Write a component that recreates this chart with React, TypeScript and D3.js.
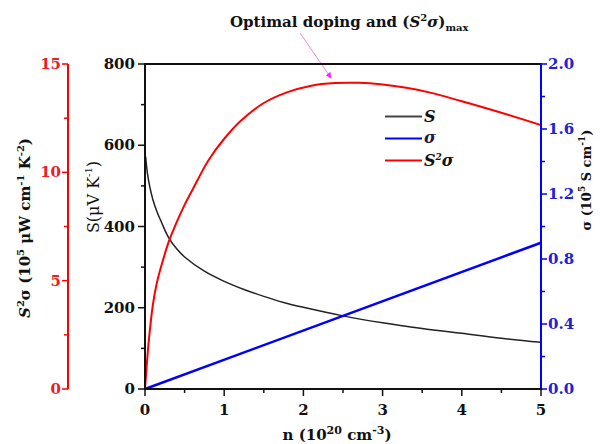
import React from "react";
import * as d3 from "d3";

const nS = [0.008, 0.03, 0.06, 0.1, 0.15, 0.2, 0.3, 0.4, 0.5, 0.75, 1, 1.25, 1.5, 1.75, 2, 2.5, 3, 3.5, 4, 4.5, 5];
const sVals = [572, 532, 498, 466, 437, 414, 372, 345, 325, 290, 265, 245, 228, 213, 201, 180, 163, 149, 137, 125, 115];

const nSig = [0, 2.5, 5];
const sigVals = [0, 0.45, 0.9];

const nPF = [0, 0.02, 0.05, 0.1, 0.15, 0.2, 0.3, 0.4, 0.5, 0.6, 0.8, 1.0, 1.2, 1.5, 1.8, 2.1, 2.4, 2.7, 3.0, 3.3, 3.6, 4.0, 4.5, 5.0];
const pfVals = [0, 1.0, 2.3, 3.9, 4.9, 5.6, 6.8, 7.7, 8.5, 9.2, 10.55, 11.55, 12.35, 13.2, 13.7, 14.0, 14.12, 14.13, 14.05, 13.9, 13.68, 13.28, 12.75, 12.18];

const xTicks = [0, 1, 2, 3, 4, 5];
const sTicks = [0, 200, 400, 600, 800];
const pfTicks = [0, 5, 10, 15];
const sigTicks = [0, 0.4, 0.8, 1.2, 1.6, 2.0];

const FONT = "DejaVu Serif";
const RED = "#ff0000";
const BLUE = "#0000ff";
const RED_TXT = "#ee1c25";
const BLUE_TXT = "#2020d8";

export default function App() {
  const x = d3.scaleLinear().domain([0, 5]).range([145, 541]);
  const yS = d3.scaleLinear().domain([0, 800]).range([389, 64]);
  const yP = d3.scaleLinear().domain([0, 15]).range([389, 64]);
  const yG = d3.scaleLinear().domain([0, 2]).range([389, 64]);

  const lineS = d3
    .line<number>()
    .x((_, i) => x(nS[i]))
    .y((d) => yS(d))
    .curve(d3.curveCatmullRom.alpha(0.5));
  const lineP = d3
    .line<number>()
    .x((_, i) => x(nPF[i]))
    .y((d) => yP(d))
    .curve(d3.curveCatmullRom.alpha(0.5));
  const lineG = d3
    .line<number>()
    .x((_, i) => x(nSig[i]))
    .y((d) => yG(d));

  const xMinor = d3.range(0, 5.01, 0.5);
  const sMinor = d3.range(0, 801, 100);
  const pMinor = d3.range(0, 15.01, 2.5);
  const gMinor = d3.range(0, 2.001, 0.2);

  const left = 145, right = 541, top = 64, bottom = 389;
  const redX = 68;

  return (
    <svg width={600} height={444} style={{ position: "absolute", left: 0, top: 0, background: "#fff" }} fontFamily={FONT}>
      <defs>
        <marker id="arr" viewBox="0 0 10 10" refX="9" refY="5" markerWidth="6" markerHeight="6" orient="auto">
          <path d="M0,0 L10,5 L0,10 z" fill="#ff22ff" />
        </marker>
      </defs>
      <rect width={600} height={444} fill="#fff" />

      {/* Title */}
      <text x={230} y={27} fontSize={15} fontWeight="bold" fill="#111">
        Optimal doping and (<tspan fontStyle="italic">S</tspan>
        <tspan dy={-6} fontSize={10}>2</tspan>
        <tspan dy={6} fontStyle="italic">σ</tspan>)
        <tspan dy={4} fontSize={10}>max</tspan>
      </text>
      <line x1={300} y1={33} x2={331} y2={78} stroke="#ee88ee" strokeWidth={1} markerEnd="url(#arr)" />

      {/* top frame */}
      <line x1={left} y1={top} x2={right} y2={top} stroke="#111" strokeWidth={2} />

      {/* curves */}
      <path d={lineS(sVals) || ""} fill="none" stroke="#222" strokeWidth={1.5} />
      <path d={lineG(sigVals) || ""} fill="none" stroke={BLUE} strokeWidth={2.5} />
      <path d={lineP(pfVals) || ""} fill="none" stroke={RED} strokeWidth={2} />

      {/* left black axis */}
      <line x1={left} y1={top - 1} x2={left} y2={bottom + 1} stroke="#111" strokeWidth={2} />
      {sMinor.map((v) => (
        <line key={"sm" + v} x1={left} x2={left - (v % 200 === 0 ? 7 : 4)} y1={yS(v)} y2={yS(v)} stroke="#111" strokeWidth={1.5} />
      ))}
      {sTicks.map((v) => (
        <text key={"st" + v} x={135} y={yS(v) + 5} textAnchor="end" fontSize={15} fontWeight="bold" fill="#111">
          {v}
        </text>
      ))}
      <text transform={`translate(99,197) rotate(-90)`} textAnchor="middle" fontSize={16} fill="#111">
        S(μV K<tspan dy={-7} fontSize={10}>-1</tspan>
        <tspan dy={7}>)</tspan>
      </text>

      {/* red axis */}
      <line x1={redX} y1={top} x2={redX} y2={bottom} stroke={RED} strokeWidth={2} />
      {pMinor.map((v) => (
        <line key={"pm" + v} x1={redX} x2={redX - (v % 5 === 0 ? 6 : 4)} y1={yP(v)} y2={yP(v)} stroke={RED} strokeWidth={1.5} />
      ))}
      {pfTicks.map((v) => (
        <text key={"pt" + v} x={61} y={yP(v) + 5} textAnchor="end" fontSize={15} fontWeight="bold" fill={RED_TXT}>
          {v}
        </text>
      ))}
      <text transform={`translate(30,228) rotate(-90)`} textAnchor="middle" fontSize={15} fontWeight="bold" fill="#111">
        <tspan fontStyle="italic">S</tspan>
        <tspan dy={-6} fontSize={10}>2</tspan>
        <tspan dy={6}>σ (10</tspan>
        <tspan dy={-6} fontSize={10}>5</tspan>
        <tspan dy={6}> μW cm</tspan>
        <tspan dy={-6} fontSize={10}>-1</tspan>
        <tspan dy={6}> K</tspan>
        <tspan dy={-6} fontSize={10}>-2</tspan>
        <tspan dy={6}>)</tspan>
      </text>

      {/* right blue axis */}
      <line x1={right} y1={top - 1} x2={right} y2={bottom + 1} stroke={BLUE} strokeWidth={2} />
      {gMinor.map((v, i) => (
        <line key={"gm" + i} x1={right} x2={right + (i % 2 === 0 ? 6 : 4)} y1={yG(v)} y2={yG(v)} stroke={BLUE} strokeWidth={1.5} />
      ))}
      {sigTicks.map((v) => (
        <text key={"gt" + v} x={548} y={yG(v) + 5} textAnchor="start" fontSize={15} fontWeight="bold" fill={BLUE_TXT}>
          {v.toFixed(1)}
        </text>
      ))}
      <text transform={`translate(591,180) rotate(-90)`} textAnchor="middle" fontSize={13} fontWeight="bold" fill="#111">
        σ (10<tspan dy={-6} fontSize={9}>5</tspan>
        <tspan dy={6}> S cm</tspan>
        <tspan dy={-6} fontSize={9}>-1</tspan>
        <tspan dy={6}>)</tspan>
      </text>

      {/* bottom axis */}
      <line x1={left - 1} y1={bottom} x2={right + 1} y2={bottom} stroke="#111" strokeWidth={2} />
      {xMinor.map((v, i) => (
        <line key={"xm" + i} x1={x(v)} x2={x(v)} y1={bottom} y2={bottom + (i % 2 === 0 ? 7 : 4)} stroke="#111" strokeWidth={1.5} />
      ))}
      {xTicks.map((v) => (
        <text key={"xt" + v} x={x(v)} y={415} textAnchor="middle" fontSize={15} fontWeight="bold" fill="#111">
          {v}
        </text>
      ))}
      <text x={337} y={440} textAnchor="middle" fontSize={15} fontWeight="bold" fill="#111">
        n (10<tspan dy={-6} fontSize={11}>20</tspan>
        <tspan dy={6}> cm</tspan>
        <tspan dy={-6} fontSize={11}>-3</tspan>
        <tspan dy={6}>)</tspan>
      </text>

      {/* legend */}
      <line x1={385} x2={422} y1={116.5} y2={116.5} stroke="#444" strokeWidth={2} />
      <line x1={385} x2={422} y1={138.5} y2={138.5} stroke={BLUE} strokeWidth={2} />
      <line x1={385} x2={422} y1={160.5} y2={160.5} stroke={RED} strokeWidth={2} />
      <text x={424} y={122} fontSize={16} fontWeight="bold" fontStyle="italic" fill="#111">S</text>
      <text x={424} y={143} fontSize={16} fontWeight="bold" fontStyle="italic" fill="#1a1a40">σ</text>
      <text x={424} y={166} fontSize={16} fontWeight="bold" fontStyle="italic" fill="#111">
        S<tspan dy={-6} fontSize={9}>2</tspan>
        <tspan dy={6}>σ</tspan>
      </text>
    </svg>
  );
}
